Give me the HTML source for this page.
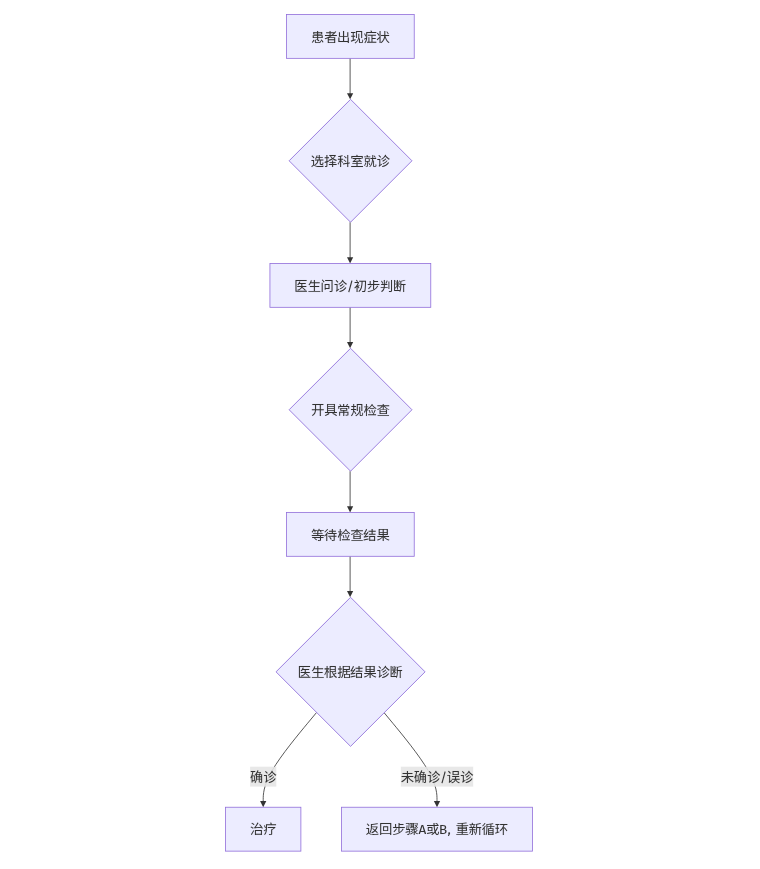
<!DOCTYPE html>
<html lang="zh-CN">
<head>
<meta charset="utf-8">
<title>就诊流程图</title>
<style>
html,body{margin:0;padding:0;background:#fff;}
body{width:760px;height:869px;overflow:hidden;font-family:"Liberation Sans",sans-serif;}
svg{display:block;}
.n{fill:#ECECFF;stroke:#9370DB;stroke-width:1;}
.d{stroke:#8866D8;}
.e{fill:none;stroke:#333;stroke-width:1;}
.ah{fill:#333;}
.lb{fill:#E5E5E5;fill-opacity:.88;}
.gl{fill:#333;stroke:#333;stroke-width:3;}
.t{font-family:"Liberation Sans",sans-serif;font-size:13px;text-anchor:middle;fill:#333;fill-opacity:0;stroke:none;}
</style>
</head>
<body>
<svg width="760" height="869" viewBox="0 0 760 869" role="img" aria-label="就诊流程图">
<defs><path id="g60a3" d="M250 141L250 17C250 -47 274 -64 365 -64C384 -64 514 -64 535 -64C608 -64 626 -40 636 64C618 67 592 77 579 87C574 4 568 -8 529 -8C498 -8 389 -8 367 -8C319 -8 311 -4 311 17L311 141L250 141M620 132C671 81 725 10 747 -37L806 -7C783 40 726 109 675 158L620 132M164 148C141 95 102 29 56 -11L112 -44C159 0 193 67 219 124L164 148M211 591L393 591L393 522L211 522L211 591M460 591L655 591L655 522L460 522L460 591M116 433L116 256L393 256L393 184L374 196L338 150C397 125 467 84 500 51L540 94C512 119 462 149 413 172L460 172L460 256L753 256L753 433L460 433L460 479L722 479L722 640L460 640L460 704L393 704L393 640L149 640L149 479L393 479L393 433L116 433M182 384L393 384L393 304L182 304L182 384M460 384L684 384L684 304L460 304L460 384Z"/><path id="g8005" d="M725 689C696 651 663 617 627 587L627 622L416 622L416 704L353 704L353 622L134 622L134 565L353 565L353 442L59 442L59 384L393 384C284 320 164 268 40 229C53 216 73 188 81 175C134 195 187 217 238 243L238 -64L302 -64L302 -53L648 -53L648 -61L713 -61L713 308L361 308C408 332 453 357 497 384L818 384L818 442L572 442C650 507 720 580 780 659L725 689M416 442L416 565L606 565C566 521 523 480 476 442L416 442M302 119L648 119L648 2L302 2L302 119M302 170L302 254L648 254L648 170L302 170Z"/><path id="g51fa" d="M75 292L75 -4L679 -4L679 -64L748 -64L748 292L679 292L679 60L445 60L445 330L714 330L714 624L645 624L645 392L445 392L445 704L375 704L375 392L180 392L180 623L114 623L114 330L375 330L375 60L145 60L145 292L75 292Z"/><path id="g73b0" d="M366 704L366 251L425 251L425 648L699 648L699 251L762 251L762 704L366 704M37 86L51 10C132 40 239 79 340 116L333 189L222 148L222 337L311 337L311 397L222 397L222 583L328 583L328 643L47 643L47 583L161 583L161 397L60 397L60 337L161 337L161 126C114 111 71 97 37 86M518 530L518 364C518 230 492 69 282 -43C294 -52 315 -76 322 -89C459 -3 525 115 555 234L555 22C555 -46 579 -64 642 -64L728 -64C806 -64 817 -25 825 132C809 136 788 147 773 163C769 13 762 -15 731 -15L655 -15C629 -15 621 -9 621 15L621 217L563 217C574 266 578 317 578 362L578 530L518 530Z"/><path id="g75c7" d="M55 530C84 473 111 399 120 351L171 377C162 425 133 498 103 554L55 530M327 297L327 9L235 9L235 -50L829 -50L829 9L581 9L581 199L788 199L788 256L581 256L581 402L804 402L804 462L290 462L290 402L520 402L520 9L384 9L384 297L327 297M452 714C463 689 474 660 484 634L185 634L185 361C185 332 184 302 182 272C130 245 79 220 42 203L64 144L177 209C164 121 135 31 67 -41C80 -49 103 -71 113 -84C229 40 246 231 246 370L246 576L829 576L829 634L557 634C548 661 531 699 516 729L452 714Z"/><path id="g72b6" d="M633 649C670 601 713 534 734 495L785 528C764 568 719 629 681 676L633 649M30 564C70 512 117 445 137 401L190 437C168 480 120 545 78 593L30 564M503 704L503 503L502 451L293 451L293 388L497 388C483 252 433 100 266 -24C284 -35 308 -52 322 -64C456 38 518 162 546 283C592 128 667 5 783 -64C793 -48 815 -25 830 -13C696 59 617 207 576 388L811 388L811 451L565 451L566 503L566 704L503 704M15 159L53 107C96 145 148 192 198 239L198 -64L261 -64L261 707L198 707L198 315C131 255 61 195 15 159Z"/><path id="g9009" d="M38 641C87 599 145 539 170 496L223 534C195 576 137 637 86 677L38 641M366 679C345 604 309 529 263 478C279 471 306 455 318 446C337 468 356 496 373 527L499 527L499 411L258 411L258 356L412 356C398 241 363 158 235 112C249 100 268 77 274 61C417 118 460 218 476 356L564 356L564 154C564 87 578 68 642 68C655 68 713 68 726 68C779 68 796 96 802 206C784 211 758 221 746 233C743 140 740 128 719 128C707 128 659 128 650 128C628 128 626 130 626 153L626 356L795 356L795 411L563 411L563 527L759 527L759 583L563 583L563 704L499 704L499 583L399 583C410 609 419 638 427 667L366 679M200 384L34 384L34 324L138 324L138 61C102 44 63 13 24 -23L67 -78C115 -22 161 25 193 25C212 25 238 -2 271 -23C327 -58 398 -68 497 -68C580 -68 724 -64 790 -59C791 -40 801 -7 808 10C724 -1 594 -7 497 -7C407 -7 336 -2 283 29C242 52 223 72 200 74L200 384Z"/><path id="g62e9" d="M152 704L152 558L40 558L40 498L152 498L152 297C107 280 65 265 32 254L48 194L152 225L152 10C152 0 147 -3 137 -4C127 -4 94 -5 57 -3C66 -21 73 -48 76 -64C130 -64 164 -63 185 -53C206 -43 214 -26 214 8L214 246L312 283L304 357L214 321L214 498L315 498L315 558L214 558L214 704L152 704M674 646C644 595 602 548 553 508C511 548 475 595 447 646L674 646M337 704L337 646L389 646C419 581 459 524 505 476C442 434 371 402 301 383C313 369 329 341 335 322C409 348 484 386 552 436C618 385 694 346 779 321C787 341 806 369 819 384C739 402 665 433 602 474C669 531 726 602 763 685L725 706L714 704L337 704M518 357L518 262L354 262L354 204L518 204L518 128L312 128L312 70L518 70L518 -64L581 -64L581 70L804 70L804 128L581 128L581 204L743 204L743 262L581 262L581 357L518 357Z"/><path id="g79d1" d="M433 607C483 571 540 519 565 484L608 525C581 561 523 611 474 644L433 607M401 384C455 350 517 298 547 262L587 302C557 338 493 388 441 420L401 384M326 691C262 663 150 637 55 622C62 608 70 586 73 572C110 577 150 584 190 591L190 461L47 461L47 401L182 401C148 306 89 200 34 141C45 127 60 102 67 85C110 135 156 217 190 300L190 -64L253 -64L253 318C283 277 318 223 332 196L371 243C353 267 279 358 253 385L253 401L379 401L379 461L253 461L253 604C295 614 332 627 365 640L326 691M369 157L378 97L646 141L646 -64L709 -64L709 152L819 169L810 226L709 210L709 704L646 704L646 201L369 157Z"/><path id="g5ba4" d="M136 184L136 128L401 128L401 -6L59 -6L59 -64L813 -64L813 -6L467 -6L467 128L737 128L737 184L467 184L467 253L401 253L401 184L136 184M171 247C197 257 237 260 643 292C662 271 680 251 692 234L741 266C706 316 634 388 574 439L527 407C549 389 573 370 596 349L267 326C315 362 364 404 409 449L719 449L719 505L156 505L156 449L326 449C279 398 229 355 210 342C188 324 168 312 152 310C159 289 167 260 171 247M379 705C391 686 403 661 412 639L68 639L68 488L130 488L130 581L736 581L736 488L801 488L801 639L484 639C474 665 457 698 440 723L379 705Z"/><path id="g5c31" d="M156 446L348 446L348 320L156 320L156 446M627 352L627 28C627 -25 633 -39 646 -50C659 -60 680 -64 697 -64C708 -64 738 -64 750 -64C767 -64 786 -62 798 -55C811 -50 819 -39 825 -21C829 -4 833 41 834 80C817 86 796 97 784 108C783 63 782 28 780 13C777 -1 774 -8 768 -11C764 -14 753 -15 743 -15C732 -15 715 -15 708 -15C699 -15 694 -13 688 -11C683 -7 682 4 682 21L682 352L627 352M130 222C113 151 86 78 51 29C63 22 86 5 97 -3C131 50 165 132 183 210L130 222M320 211C348 162 372 97 381 55L429 79C420 121 395 184 366 232L320 211M664 647C698 613 734 563 749 533L793 558C777 588 741 636 707 669L664 647M100 499L100 268L228 268L228 1C228 -8 225 -10 216 -10C208 -11 180 -11 148 -10C157 -26 165 -48 168 -64C212 -64 242 -63 262 -55C281 -45 286 -30 286 -3L286 268L407 268L407 499L100 499M198 695C212 670 227 638 236 611L54 611L54 560L443 560L443 611L302 611C291 639 273 677 256 708L198 695M574 704C574 643 574 576 570 508L451 508L451 450L565 450C551 260 506 73 380 -40C396 -47 416 -60 427 -70C560 52 608 251 625 450L819 450L819 508L629 508C633 576 634 642 635 704L574 704Z"/><path id="g8bca" d="M125 659C171 621 226 568 251 534L295 580C268 615 211 665 166 700L125 659M577 476C531 418 444 360 370 327C385 315 401 297 411 283C488 323 575 386 629 454L577 476M657 358C599 275 491 199 383 157C399 145 416 125 425 110C536 159 645 241 710 334L657 358M747 235C676 110 530 27 349 -13C364 -28 379 -52 387 -68C577 -19 725 72 805 212L747 235M53 448L53 386L182 386L182 91C182 46 150 13 134 -1C145 -10 166 -31 174 -44C188 -27 211 -10 360 97C354 110 345 134 341 151L245 86L245 448L53 448M558 717C510 610 413 509 295 445C308 434 329 411 338 398C433 454 512 528 570 614C634 532 724 451 802 406C812 422 834 446 849 458C760 500 660 584 601 665L617 699L558 717Z"/><path id="g533b" d="M781 704L69 704L69 -48L801 -48L801 13L133 13L133 643L781 643L781 704M316 614C289 535 240 458 182 408C198 399 225 382 237 371C261 393 285 421 307 452L443 452L443 336L443 320L182 320L182 263L434 263C415 195 356 125 185 75C198 63 217 41 225 26C373 75 445 138 479 205C554 148 640 71 683 22L725 66C675 121 576 202 498 258L500 263L763 263L763 320L506 320L506 336L506 452L724 452L724 507L344 507C356 536 368 567 377 598L316 614Z"/><path id="g751f" d="M215 694C183 580 128 470 58 400C74 391 102 373 115 362C147 401 178 448 205 502L406 502L406 314L153 314L153 252L406 252L406 7L59 7L59 -55L820 -55L820 7L473 7L473 252L748 252L748 314L473 314L473 502L779 502L779 564L473 564L473 704L406 704L406 564L233 564C252 600 267 640 280 680L215 694Z"/><path id="g95ee" d="M70 527L70 -64L133 -64L133 527L70 527M80 705C122 653 177 580 204 537L251 587C224 627 168 693 125 741L80 705M293 704L293 644L699 644L699 20C699 5 694 0 680 0C666 -1 617 -2 568 1C576 -17 587 -45 589 -64C656 -64 701 -63 728 -51C753 -40 763 -20 763 23L763 704L293 704M261 448L261 80L320 80L320 134L569 134L569 448L261 448M320 390L507 390L507 192L320 192L320 390Z"/><path id="g2f" d="M293 671L361 656L160 -86L91 -71L293 671Z"/><path id="g521d" d="M149 694C176 657 208 607 223 574L272 608C258 638 227 686 199 721L149 694M357 649L357 586L507 586C497 303 461 98 303 -21C316 -32 339 -58 348 -71C517 67 559 278 572 586L726 586C715 189 705 42 677 10C669 -3 659 -5 645 -5C625 -5 580 -5 531 0C542 -17 550 -45 551 -62C597 -65 643 -66 671 -63C698 -60 717 -51 734 -26C766 19 777 169 789 614C789 622 789 649 789 649L357 649M60 570L60 512L272 512C220 401 129 287 44 222C55 211 72 178 78 161C113 189 148 226 183 267L183 -69L249 -69L249 276C279 234 314 183 331 157L368 209C358 221 330 255 303 288C327 310 356 340 383 368L338 404C323 380 297 345 275 320L249 350L249 352C287 413 322 480 345 547L312 573L301 570L60 570Z"/><path id="g6b65" d="M254 350C214 281 146 211 83 166C97 155 120 131 130 118C195 171 268 251 314 330L254 350M185 641L185 448L59 448L59 387L400 387L400 117L460 117C354 53 218 13 51 -10C65 -27 78 -52 84 -71C407 -21 622 93 732 315L671 343C625 249 557 175 466 120L466 387L805 387L805 448L472 448L472 576L720 576L720 636L472 636L472 704L406 704L406 448L249 448L249 641L185 641Z"/><path id="g5224" d="M714 704L714 21C714 5 707 0 692 0C677 -1 626 -2 570 1C579 -18 588 -47 592 -64C667 -65 713 -63 740 -52C765 -42 777 -22 777 21L777 704L714 704M548 604L548 131L605 131L605 604L548 604M439 667C417 607 383 538 353 490C367 484 394 471 406 462C435 511 472 587 498 651L439 667M75 642C107 588 144 517 161 470L217 494C200 539 161 610 129 664L75 642M53 245L53 186L236 186C216 107 171 32 76 -23C91 -33 113 -55 124 -68C234 -2 283 88 303 186L498 186L498 245L312 245C316 283 317 321 317 359L317 389L476 389L476 451L317 451L317 704L253 704L253 451L84 451L84 389L253 389L253 359C253 321 251 283 247 245L53 245Z"/><path id="g65ad" d="M391 676C378 632 355 564 336 521L377 507C397 546 421 608 442 661L391 676M158 662C176 614 191 550 194 509L237 524C233 565 218 628 199 675L158 662M264 704L264 473L149 473L149 417L257 417C229 336 179 249 134 202C143 187 155 162 161 145C199 185 236 253 264 324L264 93L320 93L320 339C351 296 391 240 406 213L441 261C424 286 345 381 320 407L320 417L445 417L445 473L320 473L320 704L264 704M70 704L70 7L429 7L429 64L128 64L128 704L70 704M469 647L469 368C469 232 462 91 415 -36C428 -43 446 -57 455 -67C520 68 530 217 530 372L530 383L653 383L653 -64L713 -64L713 383L803 383L803 443L530 443L530 605C625 626 729 655 800 688L746 708C682 684 568 662 469 647Z"/><path id="g5f00" d="M566 642L566 370L328 370L328 410L328 642L566 642M58 370L58 308L259 308C247 189 204 72 60 -18C77 -29 100 -51 111 -66C268 35 313 172 325 308L566 308L566 -64L632 -64L632 308L822 308L822 370L632 370L632 642L796 642L796 704L90 704L90 642L263 642L263 410L262 370L58 370Z"/><path id="g5177" d="M528 79C622 35 721 -19 781 -61L833 -13C769 27 665 81 569 125L528 79M292 121C239 75 134 18 48 -14C63 -26 85 -47 95 -61C181 -26 284 29 353 83L292 121M194 704L194 186L58 186L58 128L823 128L823 186L696 186L696 704L194 704M255 186L255 256L632 256L632 186L255 186M255 512L632 512L632 432L255 432L255 512M255 561L255 651L632 651L632 561L255 561M255 384L632 384L632 305L255 305L255 384Z"/><path id="g5e38" d="M261 404L581 404L581 320L261 320L261 404M128 201L128 -44L189 -44L189 143L389 143L389 -64L455 -64L455 143L659 143L659 23C659 13 656 11 643 9C630 9 582 9 530 11C539 -6 549 -30 553 -47C619 -47 660 -47 688 -38C714 -28 721 -11 721 23L721 201L455 201L455 272L646 272L646 452L200 452L200 272L389 272L389 201L128 201M138 673C163 645 192 604 205 576L72 576L72 393L133 393L133 520L710 520L710 393L773 393L773 576L449 576L449 704L384 704L384 576L215 576L267 600C253 626 223 667 196 696L138 673M639 697C622 666 592 624 568 597L622 576C645 600 677 638 705 674L639 697Z"/><path id="g89c4" d="M420 704L420 251L484 251L484 648L709 648L709 251L773 251L773 704L420 704M191 704L191 574L70 574L70 514L191 514L191 432L190 380L51 380L51 320L188 320C179 198 148 62 45 -28C60 -40 81 -61 91 -74C171 11 212 120 232 231C269 176 320 96 340 55L384 112C364 138 278 239 243 274L248 320L378 320L378 380L251 380L251 433L251 514L368 514L368 574L251 574L251 704L191 704M576 531L576 367C576 235 548 75 327 -35C340 -45 360 -68 367 -81C501 -4 571 101 605 208L605 20C605 -45 625 -64 677 -64L742 -64C808 -64 817 -25 824 126C809 130 788 141 772 156C769 14 765 -13 739 -13L683 -13C664 -13 657 -7 657 16L657 233L622 233C632 279 635 325 635 366L635 531L576 531Z"/><path id="g68c0" d="M412 448L412 393L701 393L701 448L412 448M352 304C376 242 400 160 406 107L459 122C451 174 428 254 402 316L352 304M517 326C532 264 547 184 551 131L605 140C599 193 584 271 567 333L517 326M167 704L167 547L56 547L56 489L161 489C138 380 90 253 42 187C52 172 69 146 75 128C109 178 142 259 167 343L167 -64L225 -64L225 374C247 334 272 287 283 262L322 305C309 329 245 427 225 455L225 489L314 489L314 547L225 547L225 704L167 704M545 711C487 594 386 488 279 424C291 411 309 386 317 373C404 432 489 515 554 610C619 527 717 438 803 382C810 399 824 423 836 439C749 488 643 579 584 659L601 690L545 711M306 44L306 -13L812 -13L812 44L656 44C700 120 751 231 787 318L731 333C701 246 647 121 601 44L306 44Z"/><path id="g67e5" d="M261 192L606 192L606 114L261 114L261 192M261 314L606 314L606 236L261 236L261 314M198 360L198 68L672 68L672 360L198 360M73 3L73 -55L801 -55L801 3L73 3M402 704L402 621L59 621L59 565L333 565C259 478 145 400 41 361C54 352 73 335 82 324C198 370 325 459 402 560L402 361L464 361L464 561C543 462 669 374 787 331C796 340 816 354 830 361C723 399 607 478 533 565L813 565L813 621L464 621L464 704L402 704Z"/><path id="g7b49" d="M505 716C480 642 435 572 382 525L405 509L405 448L138 448L138 395L405 395L405 320L54 320L54 264L579 264L579 192L81 192L81 136L579 136L579 11C579 0 575 -4 559 -5C544 -6 495 -6 437 -4C446 -21 456 -46 460 -64C530 -64 577 -63 606 -55C635 -46 644 -29 644 7L644 136L804 136L804 192L644 192L644 264L827 264L827 320L470 320L470 395L746 395L746 448L470 448L470 509L457 509C476 531 493 557 509 586L567 586C593 550 618 506 628 475L683 500C673 525 656 556 636 586L817 586L817 640L540 640C550 660 558 680 566 702L505 716M203 101C258 68 320 16 348 -21L397 17C368 54 305 103 250 136L203 101M171 716C142 637 95 560 41 508C56 500 83 482 95 471C123 501 150 542 176 586L210 586C226 550 241 507 246 480L303 502C298 524 287 556 274 586L429 586L429 640L205 640C215 660 224 680 232 700L171 716Z"/><path id="g5f85" d="M336 164C376 121 420 61 437 22L492 52C473 90 428 148 389 189L336 164M200 705C164 644 89 569 23 525C33 514 50 493 57 481C131 531 210 608 259 681L200 705M499 704L499 590L311 590L311 532L499 532L499 442L261 442L261 384L619 384L619 270L271 270L271 212L619 212L619 10C619 0 614 -4 601 -4C587 -5 541 -6 489 -3C498 -21 507 -47 510 -64C576 -64 620 -64 647 -55C673 -45 682 -28 682 7L682 212L796 212L796 270L682 270L682 384L802 384L802 442L563 442L563 532L758 532L758 590L563 590L563 704L499 704M214 518C167 428 86 339 11 281C22 265 40 231 45 217C77 246 111 281 143 319L143 -65L205 -65L205 402C229 432 251 465 270 496L214 518Z"/><path id="g7ed3" d="M16 33L27 -35C111 -16 223 8 331 34L326 96C212 72 95 46 16 33M34 350C46 356 68 361 176 373C137 322 102 280 86 264C57 234 38 215 18 211C26 195 36 164 40 151C60 163 91 169 328 215C326 228 324 253 325 269L135 241C204 312 271 398 329 486L270 522C254 492 235 460 216 430L103 421C153 491 202 583 240 670L175 698C141 598 80 492 60 464C42 437 27 418 12 414C19 396 30 364 34 350M529 704L529 587L333 587L333 526L529 526L529 393L354 393L354 332L774 332L774 393L595 393L595 526L788 526L788 587L595 587L595 704L529 704M376 256L376 -64L438 -64L438 -45L688 -45L688 -61L752 -61L752 256L376 256M438 13L438 198L688 198L688 13L438 13Z"/><path id="g679c" d="M142 704L142 328L398 328L398 256L59 256L59 197L346 197C270 119 148 48 37 13C51 0 71 -22 81 -37C193 4 316 81 398 171L398 -64L466 -64L466 175C550 88 674 9 784 -33C793 -18 814 5 827 18C720 53 598 122 518 197L805 197L805 256L466 256L466 328L728 328L728 704L142 704M207 465L398 465L398 384L207 384L207 465M466 465L659 465L659 384L466 384L466 465M207 649L398 649L398 518L207 518L207 649M466 649L659 649L659 518L466 518L466 649Z"/><path id="g6839" d="M165 704L165 555L35 555L35 485L159 485C132 372 77 242 22 174C33 158 49 131 56 114C96 171 135 266 165 364L165 -64L224 -64L224 383C247 340 273 291 285 264L324 312C309 334 246 421 224 447L224 485L325 485L325 555L224 555L224 704L165 704M690 459L690 373L424 373L424 459L690 459M690 512L424 512L424 648L690 648L690 512M362 -63C379 -53 406 -44 587 5C585 19 584 45 585 62L424 24L424 317L511 317C556 141 642 7 783 -59C793 -40 813 -15 827 -2C755 27 698 76 653 139C701 167 758 206 802 243L759 289C725 257 669 215 623 186C601 225 583 270 568 317L752 317L752 704L359 704L359 44C359 10 346 -3 334 -9C344 -21 358 -49 362 -63Z"/><path id="g636e" d="M440 192L440 -64L496 -64L496 -47L758 -47L758 -61L817 -61L817 192L639 192L639 320L815 320L815 375L639 375L639 456L813 456L813 704L354 704L354 433C354 290 346 95 254 -43C268 -47 295 -57 307 -63C385 43 412 190 420 320L578 320L578 192L440 192M423 649L752 649L752 512L423 512L423 649M423 456L578 456L578 375L422 375L423 424L423 456M496 6L496 137L758 137L758 6L496 6M156 704L156 549L50 549L50 482L156 482L156 307C112 290 71 275 39 265L56 189L156 228L156 16C156 5 152 2 142 2C131 1 98 1 62 2C69 -15 78 -42 80 -57C133 -58 166 -55 187 -45C208 -36 216 -19 216 16L216 252L314 291L304 355L216 327L216 482L312 482L312 549L216 549L216 704L156 704Z"/><path id="g6cbb" d="M88 673C141 645 213 604 248 577L285 630C248 655 176 694 123 719L88 673M35 435C88 405 157 362 192 336L228 399C192 424 121 462 70 486L35 435M56 -17L111 -58C161 17 220 119 265 204L219 246C169 154 103 47 56 -17M315 261L315 -64L377 -64L377 -44L697 -44L697 -61L761 -61L761 261L315 261M377 15L377 200L697 200L697 15L377 15M288 358C315 368 356 371 732 396C745 373 755 350 763 330L820 373C786 441 709 542 639 618L582 591C620 549 660 500 696 451L364 434C427 512 491 611 545 710L476 730C428 619 351 504 325 474C303 443 284 422 267 418C274 401 285 371 288 358Z"/><path id="g7597" d="M50 540C79 486 113 414 130 369L181 397C164 439 128 512 98 566L50 540M453 719C465 690 478 654 486 623L183 623L183 361L182 305C129 275 78 247 40 229L63 171C99 192 138 216 177 240C167 150 138 53 63 -22C76 -30 100 -53 110 -66C228 53 245 238 245 371L245 564L828 564L828 623L555 623C546 657 532 698 516 732L453 719M514 288L514 10C514 -2 509 -6 495 -7C479 -7 425 -7 371 -6C379 -22 389 -47 393 -64C463 -64 511 -64 540 -55C570 -46 579 -30 579 7L579 263C657 303 741 362 800 417L754 452L740 448L300 448L300 391L677 391C629 353 567 313 514 288Z"/><path id="g8fd4" d="M49 638C89 594 141 536 166 501L221 538C194 573 140 629 100 670L49 638M198 384L26 384L26 324L134 324L134 81C98 68 56 34 13 -10L57 -68C95 -18 134 29 161 29C180 29 208 3 246 -17C307 -50 382 -58 485 -58C571 -58 721 -53 786 -50C787 -31 797 1 805 18C719 7 588 1 486 1C391 1 315 6 259 36C232 52 214 65 198 75L198 384M397 335C440 301 488 263 534 223C479 171 413 133 346 109C359 96 376 72 383 56C454 85 521 127 580 182C632 136 679 91 710 57L760 103C727 137 676 181 622 226C679 292 723 373 749 471L711 486L699 483L378 483L378 584C516 591 672 608 778 636L724 687C630 662 459 646 315 639L315 452C315 349 304 207 222 107C237 100 265 81 276 70C356 169 375 314 378 425L672 425C649 365 616 311 575 265C529 303 483 339 442 372L397 335Z"/><path id="g56de" d="M317 439L518 439L518 245L317 245L317 439M257 497L257 188L581 188L581 497L257 497M69 704L69 -64L134 -64L134 -7L709 -7L709 -64L777 -64L777 704L69 704M134 53L134 640L709 640L709 53L134 53Z"/><path id="g9aa4" d="M470 235C432 200 369 167 312 143C324 135 343 113 351 105C410 132 482 176 527 218L470 235M10 136L24 83C81 98 149 116 216 135L211 185C136 165 63 148 10 136M747 251C715 224 663 188 619 162C610 171 604 181 598 191L598 274C658 281 715 289 762 301L713 362C627 333 473 308 340 300C347 287 354 268 355 256C415 258 478 262 541 267L541 116L489 130C447 83 374 38 304 10C316 1 336 -18 345 -28C413 4 491 51 541 105L541 -64L598 -64L598 117C646 59 712 12 781 -14C789 0 805 21 818 32C755 51 695 84 649 129C694 152 746 186 788 216L747 251M599 576C625 547 652 513 678 477C652 446 621 421 590 404L588 439L560 437L560 656L589 656L589 704L305 704L305 656L343 656L343 416L298 412L308 371L512 393L512 353L560 353L560 399L588 403L585 401C596 392 610 377 616 366C651 384 684 410 712 442C737 417 759 392 775 373L813 401C796 423 770 451 740 481C770 540 793 610 806 690L775 695L765 694L755 693L612 693L612 649L745 649C735 603 721 559 704 520C681 551 658 583 636 610L599 576M391 656L512 656L512 606L391 606L391 656M391 551L512 551L512 506L391 506L391 551M391 467L512 467L512 431L391 421L391 467M89 556C83 465 67 338 52 264L245 264C234 87 222 16 206 -1C200 -9 193 -11 183 -11C170 -11 143 -10 112 -8C121 -23 128 -45 129 -61C158 -63 189 -63 206 -61C227 -59 241 -54 254 -37C276 -9 289 71 303 289C303 300 303 325 303 325L244 325C255 425 268 584 275 704L36 704L36 649L217 649C211 540 202 413 193 325L122 325C129 394 137 481 142 552L89 556Z"/><path id="g41" d="M406 0L361 128L134 128L89 0L5 0L197 576L302 576L493 0L406 0M154 192L341 192L248 507L154 192Z"/><path id="g6216" d="M590 667C642 643 705 606 735 580L775 621C743 648 679 683 627 703L590 667M54 62L67 -5C165 17 305 50 436 79L431 141C292 111 147 80 54 62M167 385L341 385L341 248L167 248L167 385M108 441L108 192L403 192L403 441L108 441M59 579L59 516L479 516C490 381 509 256 539 159C482 88 413 30 334 -14C348 -26 373 -50 383 -63C450 -22 510 27 563 87C601 -7 652 -64 718 -64C784 -64 808 -20 820 129C802 136 778 150 763 166C758 49 748 2 724 2C682 2 644 56 613 149C676 230 727 327 764 439L701 455C673 371 636 295 590 228C569 308 553 407 546 516L798 516L798 579L541 579C540 619 539 661 539 704L472 704C472 662 473 620 476 579L59 579Z"/><path id="g42" d="M351 291Q413 282 451 251Q490 221 490 157Q490 0 252 0L87 0L87 576L229 576Q343 576 403 538Q464 500 464 424Q464 371 431 336Q398 302 351 291M170 513L170 318L260 318Q312 318 345 344Q379 370 379 418Q379 472 344 492Q309 513 238 513L170 513M252 63Q325 63 364 83Q403 103 403 158Q403 211 365 234Q328 258 268 258L170 258L170 63L252 63Z"/><path id="g2c" d="M104 116Q130 116 147 99Q164 82 164 58Q164 32 149 -1L90 -128L33 -128L68 10Q57 18 50 30Q43 43 43 58Q43 82 60 99Q78 116 104 116Z"/><path id="g91cd" d="M149 464L149 195L405 195L405 128L122 128L122 77L405 77L405 0L58 0L58 -52L822 -52L822 0L469 0L469 77L768 77L768 128L469 128L469 195L736 195L736 464L469 464L469 512L817 512L817 565L469 565L469 659C569 666 662 678 735 690L701 739C566 715 325 699 127 694C133 681 140 658 141 643C224 645 315 649 405 654L405 565L63 565L63 512L405 512L405 464L149 464M211 320L405 320L405 242L211 242L211 320M469 320L671 320L671 242L469 242L469 320M211 422L405 422L405 364L211 364L211 422M469 422L671 422L671 364L469 364L469 422Z"/><path id="g65b0" d="M320 188C346 141 377 76 390 34L435 64C422 103 392 167 364 214L320 188M128 208C112 151 84 92 49 50C62 41 84 23 94 14C127 59 160 129 180 195L128 208M488 637L488 336C488 220 481 70 405 -35C419 -41 445 -56 455 -64C539 51 550 226 550 353L550 382L688 382L688 -64L750 -64L750 382L815 382L815 441L550 441L550 595C636 608 728 630 797 657L761 704C698 678 586 652 488 637M195 708C209 684 222 655 233 629L66 629L66 576L442 576L442 629L300 629C289 658 270 694 254 722L195 708M335 573C325 535 305 482 289 445L53 445L53 391L227 391L227 302L57 302L57 246L227 246L227 2C227 -7 225 -10 216 -10C207 -11 182 -11 152 -10C160 -25 168 -49 170 -64C211 -64 241 -63 261 -53C280 -43 286 -26 286 6L286 246L445 246L445 302L286 302L286 391L456 391L456 445L347 445C363 478 379 521 394 560L335 573M121 559C138 524 151 476 154 445L209 459C204 489 191 535 173 570L121 559Z"/><path id="g5faa" d="M189 707C157 649 94 577 37 531C48 520 65 496 71 482C137 535 205 615 250 686L189 707M417 374L417 -64L476 -64L476 -40L704 -40L704 -62L764 -62L764 374L610 374L618 457L822 457L822 512L622 512L628 619C677 628 722 638 761 648L713 696C619 669 450 648 308 637L308 358C308 233 302 70 253 -49C270 -54 296 -65 310 -71C360 54 366 223 366 359L366 457L558 457L551 374L417 374M366 589C431 595 499 601 565 610L560 512L366 512L366 589M211 528C166 448 95 366 26 312C37 297 55 265 61 252C86 275 111 303 137 334L137 -64L197 -64L197 409C223 441 248 474 269 507L211 528M476 207L704 207L704 128L476 128L476 207M476 252L476 320L704 320L704 252L476 252M476 11L476 83L704 83L704 11L476 11Z"/><path id="g73af" d="M581 407C645 337 721 241 755 182L807 221C771 278 693 372 630 440L581 407M32 82L48 24C121 49 216 78 305 109L289 165L196 136L196 337L271 337L271 397L196 397L196 583L303 583L303 643L49 643L49 583L136 583L136 397L48 397L48 337L136 337L136 116L32 82M345 646L345 584L555 584C503 436 418 305 315 221C330 210 353 185 363 173C420 223 473 288 518 360L518 -64L581 -64L581 477C597 512 612 548 625 584L809 584L809 646L345 646Z"/><path id="g786e" d="M479 751C439 637 373 527 296 455C308 444 328 421 334 410C350 422 364 436 379 451L379 277C379 179 370 58 285 -29C300 -38 324 -60 334 -72C394 -10 420 72 433 153L563 153L563 -32L619 -32L619 153L714 153L714 8C714 -4 711 -7 703 -8C696 -8 670 -8 641 -7C648 -23 652 -48 654 -64C700 -64 732 -63 751 -54C769 -44 775 -26 775 7L775 503L641 503C664 545 688 599 704 644L673 643L665 640L513 640C522 673 530 704 538 737L479 751M563 210L440 210C442 236 443 261 443 285L443 311L563 311L563 210M619 210L619 311L714 311L714 210L619 210M563 362L443 362L443 448L563 448L563 362M619 362L619 448L714 448L714 362L619 362M425 503L424 503C445 529 467 557 485 587L637 587C620 557 599 526 579 503L425 503M48 704L48 645L149 645C127 509 89 383 30 296C40 279 55 241 60 224C75 245 89 268 103 293L103 -24L158 -24L158 53L307 53L307 416L158 416C180 487 197 565 210 645L334 645L334 704L48 704M158 364L253 364L253 110L158 110L158 364Z"/><path id="g672a" d="M397 704L397 575L119 575L119 512L397 512L397 379L59 379L59 316L360 316C283 203 154 94 35 40C49 27 71 2 82 -15C194 43 314 148 397 264L397 -64L464 -64L464 268C547 151 669 43 782 -16C793 2 814 28 828 41C709 94 580 203 501 316L808 316L808 379L464 379L464 512L750 512L750 575L464 575L464 704L397 704Z"/><path id="g8bef" d="M423 648L699 648L699 504L423 504L423 648M363 704L363 448L761 448L761 704L363 704M73 676C119 631 175 567 202 525L252 582C224 620 162 679 115 721L73 676M311 203L311 146L503 146C475 61 415 4 283 -31C297 -43 315 -68 322 -82C454 -43 520 17 554 106C600 13 678 -52 783 -85C791 -67 808 -43 823 -30C716 -4 638 58 597 146L818 146L818 203L579 203C584 239 587 278 589 320L786 320L786 377L339 377L339 320L527 320C526 278 522 239 518 203L311 203M148 -57C162 -41 185 -25 331 70C326 83 317 107 314 123L206 62L206 452L23 452L23 395L144 395L144 69C144 32 125 12 113 2C125 -11 143 -41 148 -57Z"/></defs>
<g transform="translate(350.35 36.3) scale(0.819)">
<g class="edges"><path class="e" d="M-0.30,26.92L-0.30,73.20"/><polygon class="ah" points="-4.10,69.40 3.50,69.40 -0.30,77.00"/><path class="e" d="M-0.30,227.00L-0.30,273.52"/><polygon class="ah" points="-4.10,269.72 3.50,269.72 -0.30,277.32"/><path class="e" d="M-0.30,330.92L-0.30,377.20"/><polygon class="ah" points="-4.10,373.40 3.50,373.40 -0.30,381.00"/><path class="e" d="M-0.30,531.00L-0.30,577.52"/><polygon class="ah" points="-4.10,573.72 3.50,573.72 -0.30,581.32"/><path class="e" d="M-0.30,634.92L-0.30,681.20"/><polygon class="ah" points="-4.10,677.40 3.50,677.40 -0.30,685.00"/><path class="e" d="M-41.31,825.69L-52.16,838.74C-63.00,851.80 -84.70,877.90 -95.55,896.54C-106.40,915.17 -106.40,926.35 -106.40,931.93L-106.40,937.52"/><polygon class="ah" points="-110.20,933.72 -102.60,933.72 -106.40,941.32"/><path class="e" d="M41.18,825.82L51.95,838.85C62.72,851.88 84.26,877.94 95.03,896.56C105.80,915.17 105.80,926.35 105.80,931.93L105.80,937.52"/><polygon class="ah" points="102.00,933.72 109.60,933.72 105.80,941.32"/></g>
<g class="labels"><rect class="lb" x="-122.40" y="891.85" width="32.00" height="24.3"/><rect class="lb" x="61.61" y="891.85" width="88.38" height="24.3"/></g>
<g class="nodes"><rect class="n" x="-78.00" y="-26.68" width="156.00" height="53.6"/><polygon class="n d" points="0.25,77.00 75.25,152.00 0.25,227.00 -74.75,152.00"/><rect class="n" x="-98.19" y="277.32" width="196.38" height="53.6"/><polygon class="n d" points="0.25,381.00 75.25,456.00 0.25,531.00 -74.75,456.00"/><rect class="n" x="-78.00" y="581.32" width="156.00" height="53.6"/><polygon class="n d" points="0.25,685.00 91.25,776.00 0.25,867.00 -90.75,776.00"/><rect class="n" x="-152.40" y="941.32" width="92.00" height="53.6"/><rect class="n" x="-10.79" y="941.32" width="233.18" height="53.6"/></g>
</g>
<g class="gl">
<g transform="translate(0 42) scale(.015625 -.015625)" aria-hidden="true"><use href="#g60a3" x="19900"/><use href="#g8005" x="20739"/><use href="#g51fa" x="21578"/><use href="#g73b0" x="22416"/><use href="#g75c7" x="23255"/><use href="#g72b6" x="24094"/></g>
<text class="t" x="350.4" y="42" textLength="78.6" lengthAdjust="spacingAndGlyphs">患者出现症状</text>
<g transform="translate(0 166) scale(.015625 -.015625)" aria-hidden="true"><use href="#g9009" x="19900"/><use href="#g62e9" x="20739"/><use href="#g79d1" x="21578"/><use href="#g5ba4" x="22416"/><use href="#g5c31" x="23255"/><use href="#g8bca" x="24094"/></g>
<text class="t" x="350.4" y="166" textLength="78.6" lengthAdjust="spacingAndGlyphs">选择科室就诊</text>
<g transform="translate(0 291) scale(.015625 -.015625)" aria-hidden="true"><use href="#g533b" x="18842"/><use href="#g751f" x="19681"/><use href="#g95ee" x="20519"/><use href="#g8bca" x="21358"/><use href="#g2f" x="22196"/><use href="#g521d" x="22636"/><use href="#g6b65" x="23475"/><use href="#g5224" x="24313"/><use href="#g65ad" x="25152"/></g>
<text class="t" x="350.4" y="291" textLength="111.7" lengthAdjust="spacingAndGlyphs">医生问诊/初步判断</text>
<g transform="translate(0 415) scale(.015625 -.015625)" aria-hidden="true"><use href="#g5f00" x="19900"/><use href="#g5177" x="20739"/><use href="#g5e38" x="21578"/><use href="#g89c4" x="22416"/><use href="#g68c0" x="23255"/><use href="#g67e5" x="24094"/></g>
<text class="t" x="350.4" y="415" textLength="78.6" lengthAdjust="spacingAndGlyphs">开具常规检查</text>
<g transform="translate(0 540) scale(.015625 -.015625)" aria-hidden="true"><use href="#g7b49" x="19900"/><use href="#g5f85" x="20739"/><use href="#g68c0" x="21578"/><use href="#g67e5" x="22416"/><use href="#g7ed3" x="23255"/><use href="#g679c" x="24094"/></g>
<text class="t" x="350.4" y="540" textLength="78.6" lengthAdjust="spacingAndGlyphs">等待检查结果</text>
<g transform="translate(0 677) scale(.015625 -.015625)" aria-hidden="true"><use href="#g533b" x="19062"/><use href="#g751f" x="19900"/><use href="#g6839" x="20739"/><use href="#g636e" x="21578"/><use href="#g7ed3" x="22416"/><use href="#g679c" x="23255"/><use href="#g8bca" x="24094"/><use href="#g65ad" x="24932"/></g>
<text class="t" x="350.4" y="677" textLength="104.8" lengthAdjust="spacingAndGlyphs">医生根据结果诊断</text>
<g transform="translate(0 834) scale(.015625 -.015625)" aria-hidden="true"><use href="#g6cbb" x="16001"/><use href="#g7597" x="16839"/></g>
<text class="t" x="263.2" y="834" textLength="26.2" lengthAdjust="spacingAndGlyphs">治疗</text>
<g transform="translate(0 834) scale(.015625 -.015625)" aria-hidden="true"><use href="#g8fd4" x="23423"/><use href="#g56de" x="24262"/><use href="#g6b65" x="25100"/><use href="#g9aa4" x="25939"/><use href="#g41" x="26782"/><use href="#g6216" x="27272"/><use href="#g42" x="28090"/><use href="#g2c" x="28641"/><use href="#g91cd" x="29146"/><use href="#g65b0" x="29985"/><use href="#g5faa" x="30823"/><use href="#g73af" x="31662"/></g>
<text class="t" x="437.0" y="834" textLength="141.8" lengthAdjust="spacingAndGlyphs">返回步骤A或B, 重新循环</text>
<g transform="translate(0 782) scale(.015625 -.015625)" aria-hidden="true"><use href="#g786e" x="16001"/><use href="#g8bca" x="16839"/></g>
<text class="t" x="263.2" y="782" textLength="26.2" lengthAdjust="spacingAndGlyphs">确诊</text>
<g transform="translate(0 782) scale(.015625 -.015625)" aria-hidden="true"><use href="#g672a" x="25645"/><use href="#g786e" x="26484"/><use href="#g8bca" x="27323"/><use href="#g2f" x="28161"/><use href="#g8bef" x="28601"/><use href="#g8bca" x="29440"/></g>
<text class="t" x="437.0" y="782" textLength="72.4" lengthAdjust="spacingAndGlyphs">未确诊/误诊</text>
</g>
</svg>
</body>
</html>
